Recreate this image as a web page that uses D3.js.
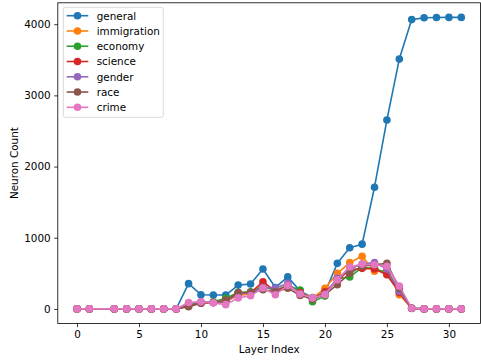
<!DOCTYPE html>
<html><head><meta charset="utf-8">
<script src="https://cdn.jsdelivr.net/npm/d3@7"></script>
<style>html,body{margin:0;padding:0;background:#fff;}svg{display:block;font-family:"DejaVu Sans",sans-serif;}</style>
</head><body>
<svg id="c" width="481" height="363"></svg>
<script>
const layers = [0,1,3,4,5,6,7,8,9,10,11,12,13,14,15,16,17,18,19,20,21,22,23,24,25,26,27,28,29,30,31];
const seriesNames = ["general","immigration","economy","science","gender","race","crime"];
const colors = ["#1f77b4","#ff7f0e","#2ca02c","#d62728","#9467bd","#8c564b","#e377c2"];
const general     = [0,0,0,0,0,0,0,0,355,200,195,195,335,350,560,300,450,250,160,230,640,860,910,1710,2655,3510,4065,4090,4095,4096,4096];
const immigration = [0,0,0,0,0,0,0,0,60,90,90,100,190,210,330,250,340,240,150,290,500,650,740,530,540,200,10,0,0,0,0];
const economy     = [0,0,0,0,0,0,0,0,50,90,100,150,230,240,320,260,330,265,100,180,420,450,580,570,500,250,10,0,0,0,0];
const science     = [0,0,0,0,0,0,0,0,40,80,90,120,220,230,380,250,320,230,140,240,400,550,570,560,480,230,5,0,0,0,0];
const gender      = [0,0,0,0,0,0,0,0,80,100,90,110,210,230,300,290,360,210,150,210,430,560,630,650,560,250,10,0,0,0,0];
const race        = [0,0,0,0,0,0,0,0,30,80,90,110,230,230,270,240,290,190,140,200,340,500,600,620,640,290,10,0,0,0,0];
const crime       = [0,0,0,0,0,0,0,0,90,100,85,60,155,185,295,200,330,210,155,200,410,590,630,620,600,320,10,0,0,0,0];
const xTicks = [0,5,10,15,20,25,30];
const yTicks = [0,1000,2000,3000,4000];
const allSeries = [general,immigration,economy,science,gender,race,crime];

const svg = d3.select("#c");
const L = 57.8, R = 480.5, T = 2.8, B = 323.5;
const x = d3.scaleLinear().domain([-1.55, 32.55]).range([L, R]);
const y = d3.scaleLinear().domain([-204.8, 4300.8]).range([B, T]);

const xAxis = svg.append("g").attr("transform", `translate(0,${B})`)
  .call(d3.axisBottom(x).tickValues(xTicks).tickSize(3.6).tickPadding(3.5).tickFormat(d3.format("d")));
const yAxis = svg.append("g").attr("transform", `translate(${L},0)`)
  .call(d3.axisLeft(y).tickValues(yTicks).tickSize(3.6).tickPadding(3.5).tickFormat(d3.format("d")));
[xAxis,yAxis].forEach(a => {
  a.select(".domain").remove();
  a.selectAll("line").attr("stroke","#000").attr("stroke-width",0.8);
  a.selectAll("text").attr("fill","#000").style("font-size","10.4px").style("font-family","DejaVu Sans");
});

const plot = svg.append("g");
const line = d3.line().x((d,i)=>x(layers[i])).y(d=>y(d));
allSeries.forEach((s,k) => {
  plot.append("path").datum(s).attr("d", line).attr("fill","none")
    .attr("stroke", colors[k]).attr("stroke-width",1.6).attr("stroke-linejoin","round");
  plot.selectAll(null).data(s).enter().append("circle")
    .attr("cx",(d,i)=>x(layers[i])).attr("cy",d=>y(d)).attr("r",3.8).attr("fill",colors[k]);
});

// spines
svg.append("rect").attr("x",L).attr("y",T).attr("width",R-L).attr("height",B-T)
  .attr("fill","none").attr("stroke","#000").attr("stroke-width",0.8);

// axis labels
svg.append("text").attr("x",(L+R)/2).attr("y",353).attr("text-anchor","middle")
  .style("font-size","10.4px").attr("fill","#000").text("Layer Index");
svg.append("text").attr("transform",`translate(18,${(T+B)/2}) rotate(-90)`).attr("text-anchor","middle")
  .style("font-size","10.4px").attr("fill","#000").text("Neuron Count");

// legend
const lg = svg.append("g");
lg.append("rect").attr("x",63.3).attr("y",7.3).attr("width",100).attr("height",110).attr("rx",2)
  .attr("fill","#fff").attr("fill-opacity",0.8).attr("stroke","#d0d0d0").attr("stroke-width",0.8);
seriesNames.forEach((n,k) => {
  const yy = 15.7 + k*15.27;
  lg.append("line").attr("x1",66.7).attr("x2",88.3).attr("y1",yy).attr("y2",yy)
    .attr("stroke",colors[k]).attr("stroke-width",1.6);
  lg.append("circle").attr("cx",77.5).attr("cy",yy).attr("r",3.8).attr("fill",colors[k]);
  lg.append("text").attr("x",96.7).attr("y",yy+3.8).style("font-size","10.4px").attr("fill","#000").text(n);
});
</script>
</body></html>
